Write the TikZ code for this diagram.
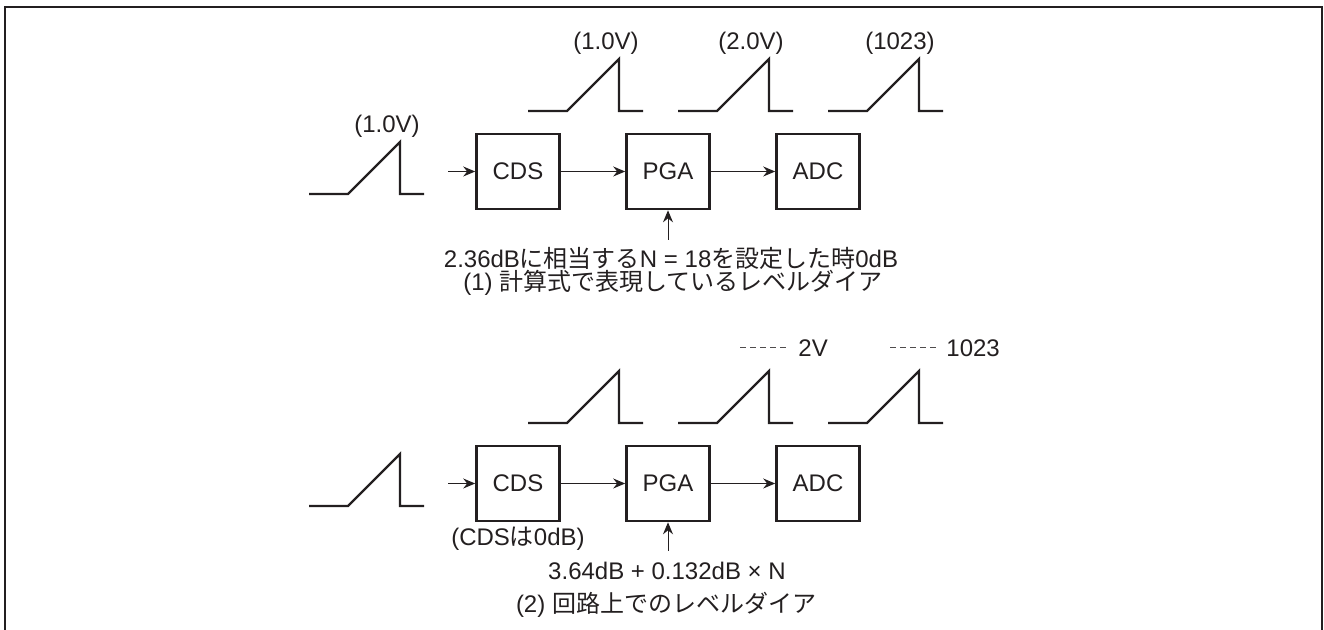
\documentclass[tikz,border=0pt]{standalone}
\usepackage{fontspec}
\setmainfont{Liberation Sans}
\newfontfamily\jp{Noto Sans CJK JP}
\usetikzlibrary{arrows.meta}
\definecolor{ink}{RGB}{35,31,32}
\tikzset{
  lbl/.style={ text=ink, inner sep=0pt, font=\fontsize{12}{14}\selectfont }
}
\tikzset{
  blk/.style={ lbl, draw=ink, line width=1.3pt, minimum width=41.5pt, minimum height=37.5pt }
}
\tikzset{
  wave/.style={ draw=ink, line width=1.2pt }
}
\tikzset{
  sig/.style={ draw=ink, line width=0.5pt, -{Stealth[length=6pt, width=5pt, inset=2pt]} }
}
\tikzset{
  lead/.style={ draw=ink!80, line width=0.5pt, dash pattern=on 3pt off 2pt }
}

\begin{document}
\begin{tikzpicture}[x=0.5pt, y=-0.5pt]
  \useasboundingbox (0,0) rectangle (1324,630);
  \draw[ink, line width=0.9pt] (5,630) -- (5,7) -- (1322,7) -- (1322,630);

  % (1) upper chain
  \foreach \s/\b in {309/194, 528/111, 678/111, 828/111}
    \draw[wave] (\s,\b) -- ++(39,0) -- ++(52,-52) -- ++(0,52) -- ++(24,0);

  \node[lbl] (in1) at (387,126) {(1.0V)};
  \node[lbl] (lv1) at (606,43) {(1.0V)};
  \node[lbl] (lv2) at (751,43) {(2.0V)};
  \node[lbl] (lv3) at (900,43) {(1023)};

  \node[blk] (cds1) at (518,171.5) {CDS};
  \node[blk] (pga1) at (668,171.5) {PGA};
  \node[blk] (adc1) at (818,171.5) {ADC};
  \coordinate (src1) at (448,171.5);
  \coordinate (gain1) at (668,240);

  \node[lbl] (note1) at (671,258) {2.36dB{\jp に相当する}N = 18{\jp を設定した時}0dB};
  \node[lbl] (cap1) at (673,283) {(1) {\jp 計算式で表現しているレベルダイア}};

  \begin{scope}[sig]
    \draw (src1) -- (cds1);
    \draw (cds1) -- (pga1);
    \draw (pga1) -- (adc1);
    \draw (gain1) -- (pga1);
  \end{scope}

  % (2) lower chain
  \foreach \s/\b in {309/506, 528/423, 678/423, 828/423}
    \draw[wave] (\s,\b) -- ++(39,0) -- ++(52,-52) -- ++(0,52) -- ++(24,0);

  \node[lbl, anchor=west] (lv5) at (798,348) {2V};
  \node[lbl, anchor=west] (lv6) at (946,348) {1023};
  \coordinate (d5) at (740,348);
  \coordinate (d6) at (890,348);
  \draw[lead] (d5) -- ([xshift=-5.5pt]lv5.west);
  \draw[lead] (d6) -- ([xshift=-4.5pt]lv6.west);

  \node[blk] (cds2) at (518,483.5) {CDS};
  \node[blk] (pga2) at (668,483.5) {PGA};
  \node[blk] (adc2) at (818,483.5) {ADC};
  \coordinate (src2) at (448,483.5);
  \coordinate (gain2) at (668,551);

  \node[lbl] (cdsgain) at (518,539) {(CDS{\jp は}0dB)};
  \node[lbl] (note2) at (667,571) {3.64dB + 0.132dB × N};
  \node[lbl] (cap2) at (666,605) {(2) {\jp 回路上でのレベルダイア}};

  \begin{scope}[sig]
    \draw (src2) -- (cds2);
    \draw (cds2) -- (pga2);
    \draw (pga2) -- (adc2);
    \draw (gain2) -- (pga2);
  \end{scope}
\end{tikzpicture}
\end{document}
